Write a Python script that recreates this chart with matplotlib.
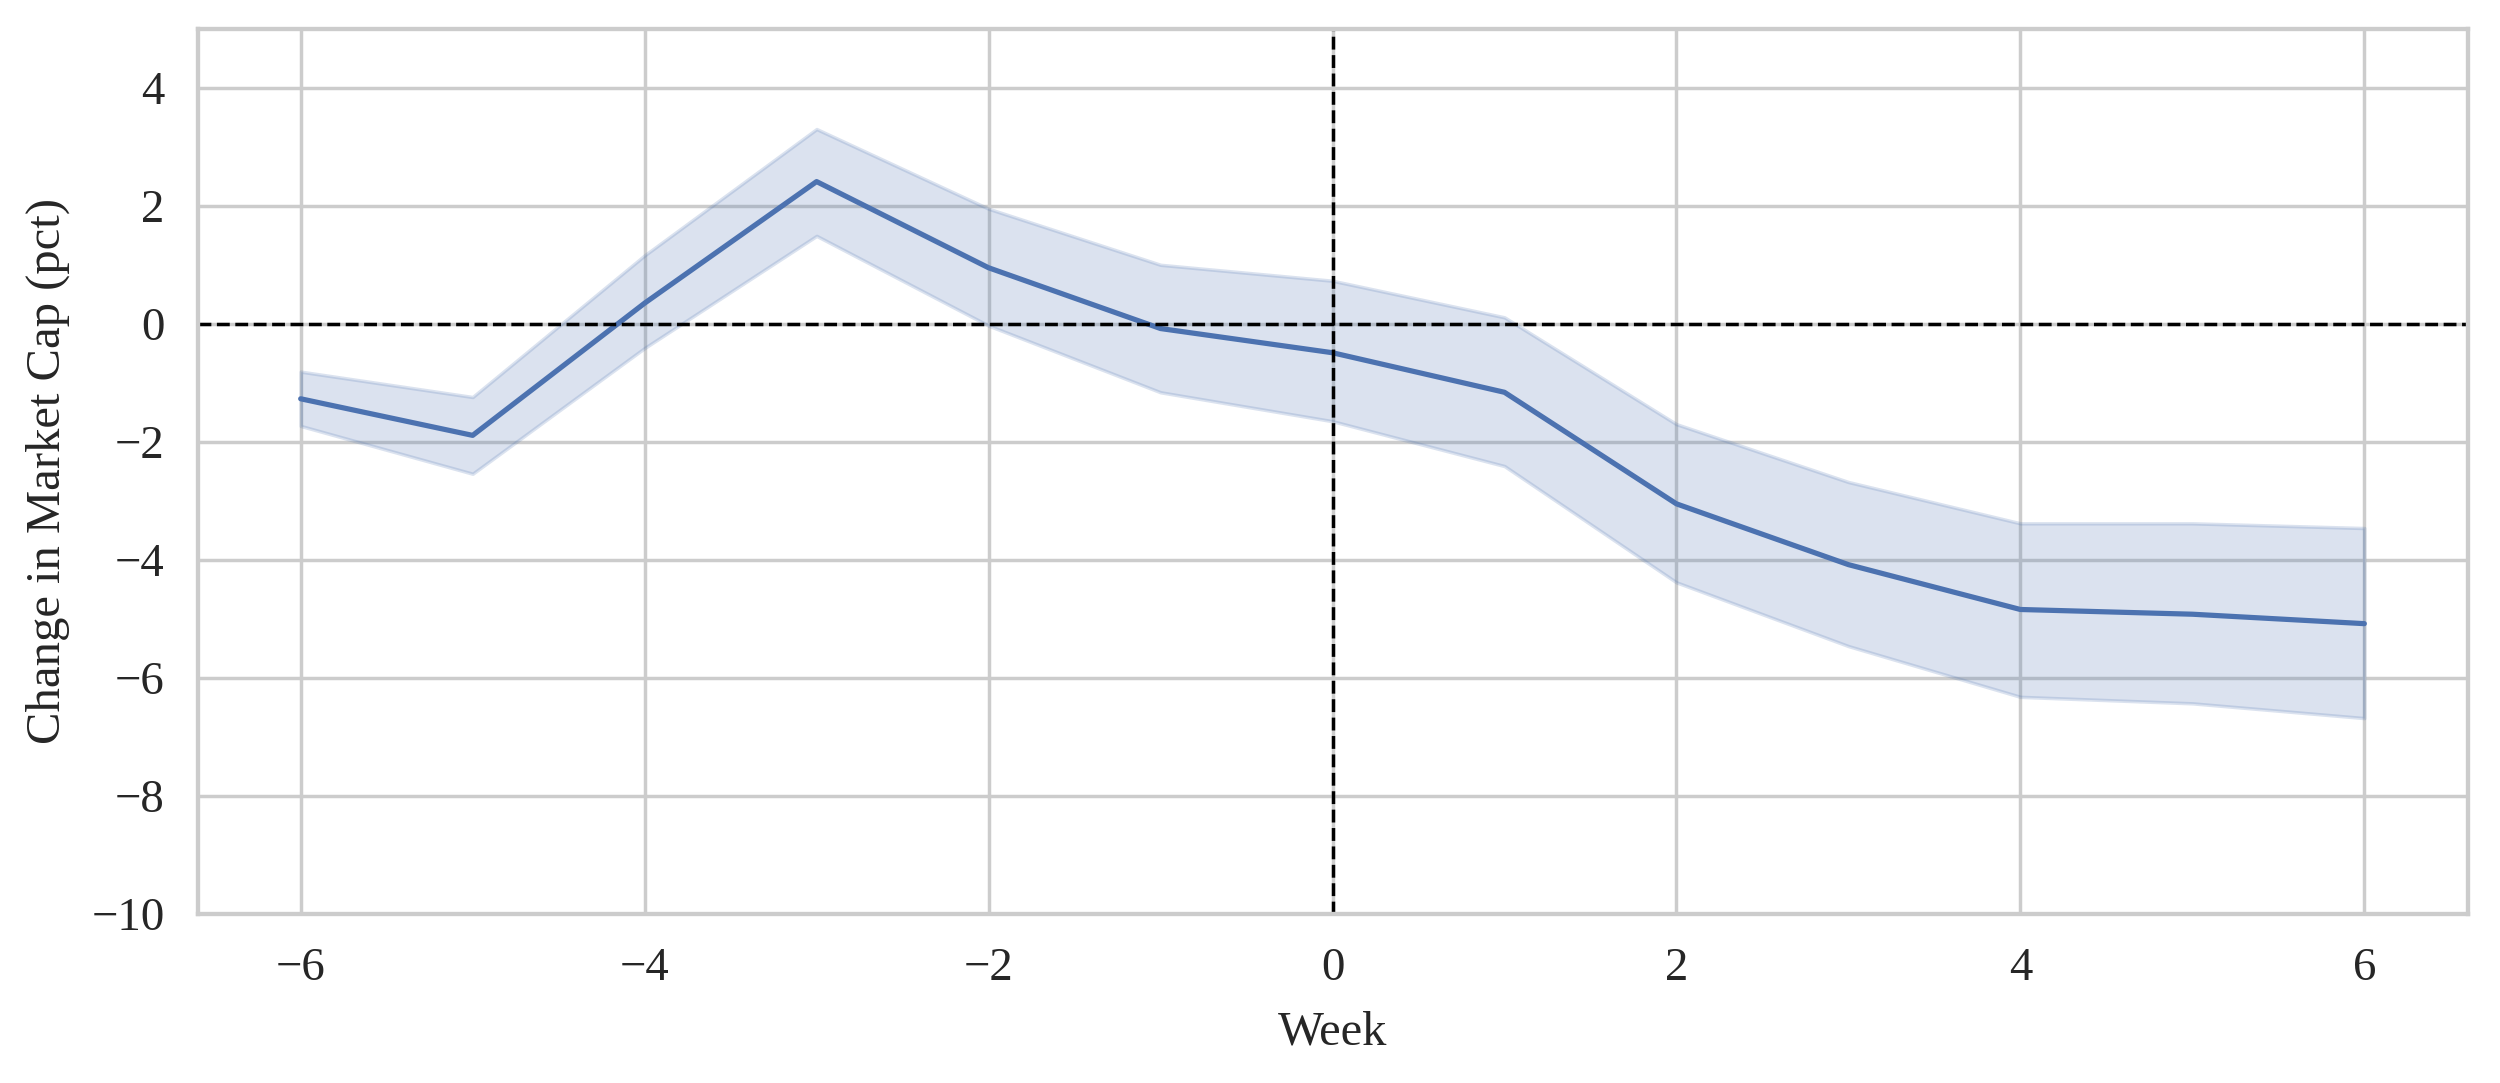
import numpy as np
import matplotlib
matplotlib.use('Agg')
import matplotlib.pyplot as plt
import seaborn as sns

sns.set_theme(style='whitegrid')
plt.rcParams['font.family'] = ['Liberation Serif', 'DejaVu Serif']

## event-window data
weeks = [-6, -5, -4, -3, -2, -1, 0, 1, 2, 3, 4, 5, 6]
mean_change = [-1.27, -1.89, 0.35, 2.41, 0.95, -0.08, -0.49, -1.16, -3.05, -4.08, -4.84, -4.92, -5.08]
ci_upper = [-0.81, -1.24, 1.16, 3.30, 1.95, 1.00, 0.73, 0.11, -1.70, -2.68, -3.38, -3.38, -3.46]
ci_lower = [-1.73, -2.54, -0.41, 1.49, -0.03, -1.16, -1.65, -2.41, -4.38, -5.46, -6.32, -6.43, -6.68]

fig = plt.figure(figsize=(10, 4.332), dpi=250)
ax = fig.add_axes([0.079, 0.156, 0.908, 0.8175])

color = sns.color_palette('deep')[0]
ax.fill_between(weeks, ci_lower, ci_upper, color=color, alpha=0.2, linewidth=1)
ax.plot(weeks, mean_change, color=color, linewidth=1.5)

# event markers
ax.axhline(0, color='black', linestyle='--', linewidth=1)
ax.axvline(0, color='black', linestyle='--', linewidth=1)

ax.set_ylim(-10, 5)
ax.set_yticks(np.arange(-10, 5, 2))
ax.set_xlabel('Week', fontsize=14, labelpad=6)
ax.set_ylabel('Change in Market Cap (pct)', fontsize=14, labelpad=6)
ax.tick_params(labelsize=13.5)

fig.savefig('out.png', dpi=250)
